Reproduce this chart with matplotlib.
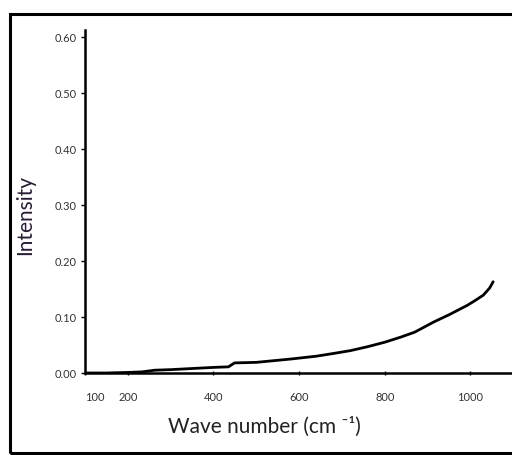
import numpy as np
import matplotlib
matplotlib.use("Agg")
import matplotlib.pyplot as plt
from matplotlib.patches import Rectangle

# values
wave = [100, 150, 200, 233, 263, 300, 350, 400, 435, 449, 500, 581, 640, 681, 720,
        760, 800, 837, 870, 914, 950, 993, 1010, 1030, 1045, 1053]
intensity = [0.000, 0.000, 0.001, 0.002, 0.005, 0.006, 0.008, 0.010, 0.011, 0.018,
             0.019, 0.025, 0.030, 0.035, 0.040, 0.047, 0.055, 0.064, 0.073, 0.091,
             0.104, 0.121, 0.129, 0.139, 0.152, 0.163]
xticks = [100, 200, 400, 600, 800, 1000]
yticks = [0.0, 0.1, 0.2, 0.3, 0.4, 0.5, 0.6]

plt.rcParams['font.family'] = ['Lato', 'DejaVu Sans']

fig = plt.figure(figsize=(5.12, 4.55), dpi=100)
ax = fig.add_axes([85/512, 82/455, 427/512, 343/455])

ax.plot(wave, intensity, color='black', lw=2.0, solid_capstyle='round')

ax.set_xlim(104, 1097)
ax.set_ylim(0, 0.6125)
ax.set_xticks(xticks)
ax.set_yticks(yticks)
ax.set_yticklabels(['%.2f' % v for v in yticks])
ax.xaxis.get_majorticklabels()[0].set_horizontalalignment('left')

for s in ['top', 'right']:
    ax.spines[s].set_visible(False)
for s in ['left', 'bottom']:
    ax.spines[s].set_linewidth(1.8)
ax.tick_params(axis='y', direction='out', length=3, width=1, labelsize=8,
               labelcolor='#333333', pad=3)
ax.tick_params(axis='x', direction='inout', length=3, width=1, labelsize=8,
               labelcolor='#333333', pad=12)

fig.text(264/512, 1 - 427/455, 'Wave number (cm \u207b\u00b9)', ha='center', va='center',
         fontsize=15, color='#222222')
fig.text(25/512, 1 - 215/455, 'Intensity', ha='center', va='center', rotation=90,
         fontsize=15, color='#2a1a3a')

# outer frame
fig.patches.append(Rectangle((10/512, 2/455), 520/512, 439/455, transform=fig.transFigure,
                             fill=False, edgecolor='black', lw=2.2))

fig.savefig('out.png', dpi=100)
